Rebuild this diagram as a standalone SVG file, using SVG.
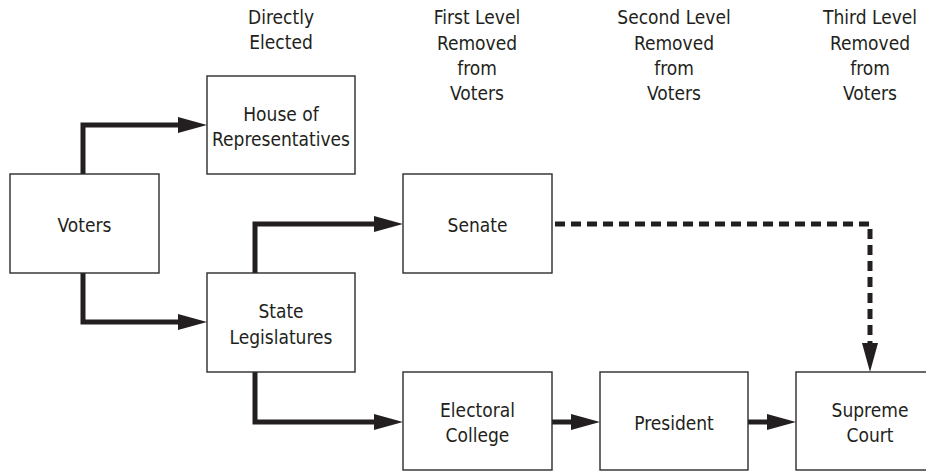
<svg xmlns="http://www.w3.org/2000/svg" width="926" height="471" viewBox="0 0 926 471">
<style>
  .box { fill: #ffffff; stroke: #2b2b2b; stroke-width: 1.4; }
  text { font-family: "DejaVu Sans Condensed", "Liberation Sans", Arial, sans-serif; font-stretch: condensed; font-size: 19px; fill: #231f20; text-anchor: middle; }
  .conn { fill: none; stroke: #231f20; stroke-width: 5; }
  .dash { stroke-dasharray: 10 6; }
</style>
<defs>
  <marker id="arrow" markerUnits="userSpaceOnUse" markerWidth="30" markerHeight="16" viewBox="0 0 29 16" refX="1" refY="8" orient="auto">
    <path d="M0,0 L29,8 L0,16 Z" fill="#231f20"/>
  </marker>
</defs>
<rect width="926" height="471" fill="#ffffff"/>

<g id="headers">
  <text x="281" y="24">Directly</text>
  <text x="281" y="49">Elected</text>
  <text x="477" y="24">First Level</text>
  <text x="477" y="49.5">Removed</text>
  <text x="477" y="75">from</text>
  <text x="477" y="100">Voters</text>
  <text x="674" y="24">Second Level</text>
  <text x="674" y="49.5">Removed</text>
  <text x="674" y="75">from</text>
  <text x="674" y="100">Voters</text>
  <text x="870" y="24">Third Level</text>
  <text x="870" y="49.5">Removed</text>
  <text x="870" y="75">from</text>
  <text x="870" y="100">Voters</text>
</g>

<g id="connectors">
  <path class="conn" d="M83,174 V125 H179" marker-end="url(#arrow)"/>
  <path class="conn" d="M83,273 V322 H179" marker-end="url(#arrow)"/>
  <path class="conn" d="M255,273 V224 H375" marker-end="url(#arrow)"/>
  <path class="conn" d="M255,372 V422 H375" marker-end="url(#arrow)"/>
  <path class="conn" d="M552,422 H572" marker-end="url(#arrow)"/>
  <path class="conn" d="M748,422 H768" marker-end="url(#arrow)"/>
  <path class="conn dash" d="M555,224 H870 V344" marker-end="url(#arrow)"/>
</g>

<g id="voters">
  <rect class="box" x="10" y="174" width="149" height="99"/>
  <text x="84.5" y="232">Voters</text>
</g>
<g id="house">
  <rect class="box" x="207" y="76" width="148" height="98"/>
  <text x="281" y="121">House of</text>
  <text x="281" y="146">Representatives</text>
</g>
<g id="senate">
  <rect class="box" x="403" y="174" width="149" height="99"/>
  <text x="477.5" y="232">Senate</text>
</g>
<g id="state-legislatures">
  <rect class="box" x="207" y="273" width="148" height="99"/>
  <text x="281" y="318">State</text>
  <text x="281" y="344">Legislatures</text>
</g>
<g id="electoral-college">
  <rect class="box" x="403" y="372" width="149" height="98"/>
  <text x="477.5" y="417">Electoral</text>
  <text x="477.5" y="442">College</text>
</g>
<g id="president">
  <rect class="box" x="600" y="372" width="148" height="98"/>
  <text x="674" y="430">President</text>
</g>
<g id="supreme-court">
  <rect class="box" x="796" y="372" width="148" height="98"/>
  <text x="870" y="417">Supreme</text>
  <text x="870" y="442">Court</text>
</g>
</svg>
